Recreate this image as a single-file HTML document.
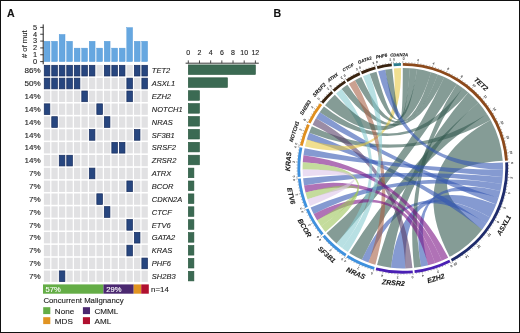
<!DOCTYPE html>
<html><head><meta charset="utf-8"><style>
html,body{margin:0;padding:0;background:#fff;}
#f{position:relative;width:520px;height:333px;overflow:hidden;background:#fff;}
svg{display:block;font-family:"Liberation Sans", sans-serif;will-change:transform;}
#f:after{content:"";position:absolute;left:0;top:0;right:0;bottom:0;border:1px solid #111;box-sizing:border-box;}
</style></head><body><div id="f">
<svg width="520" height="333" viewBox="0 0 520 333">
<text stroke="#111" stroke-width="0.12" x="7.0" y="16.6" font-size="10.6" font-weight="bold" fill="#111">A</text>
<text stroke="#111" stroke-width="0.12" x="273.6" y="16.8" font-size="10.6" font-weight="bold" fill="#111">B</text>
<rect x="44.15" y="41.28" width="5.85" height="20.32" fill="#66a7e0" stroke="#4f97d8" stroke-width="0.4"/>
<rect x="51.66" y="41.28" width="5.85" height="20.32" fill="#66a7e0" stroke="#4f97d8" stroke-width="0.4"/>
<rect x="59.17" y="34.44" width="5.85" height="27.16" fill="#66a7e0" stroke="#4f97d8" stroke-width="0.4"/>
<rect x="66.68" y="41.28" width="5.85" height="20.32" fill="#66a7e0" stroke="#4f97d8" stroke-width="0.4"/>
<rect x="74.19" y="48.12" width="5.85" height="13.48" fill="#66a7e0" stroke="#4f97d8" stroke-width="0.4"/>
<rect x="81.70" y="48.12" width="5.85" height="13.48" fill="#66a7e0" stroke="#4f97d8" stroke-width="0.4"/>
<rect x="89.21" y="41.28" width="5.85" height="20.32" fill="#66a7e0" stroke="#4f97d8" stroke-width="0.4"/>
<rect x="96.72" y="48.12" width="5.85" height="13.48" fill="#66a7e0" stroke="#4f97d8" stroke-width="0.4"/>
<rect x="104.23" y="41.28" width="5.85" height="20.32" fill="#66a7e0" stroke="#4f97d8" stroke-width="0.4"/>
<rect x="111.74" y="48.12" width="5.85" height="13.48" fill="#66a7e0" stroke="#4f97d8" stroke-width="0.4"/>
<rect x="119.25" y="48.12" width="5.85" height="13.48" fill="#66a7e0" stroke="#4f97d8" stroke-width="0.4"/>
<rect x="126.76" y="27.60" width="5.85" height="34.00" fill="#66a7e0" stroke="#4f97d8" stroke-width="0.4"/>
<rect x="134.27" y="41.28" width="5.85" height="20.32" fill="#66a7e0" stroke="#4f97d8" stroke-width="0.4"/>
<rect x="141.78" y="41.28" width="5.85" height="20.32" fill="#66a7e0" stroke="#4f97d8" stroke-width="0.4"/>
<line x1="43.2" y1="24.4" x2="43.2" y2="64.3" stroke="#222" stroke-width="1.0"/>
<line x1="40.2" y1="61.60" x2="43.4" y2="61.60" stroke="#222" stroke-width="0.85"/>
<text stroke="#222" stroke-width="0.12" x="37.1" y="63.90" font-size="7.4" fill="#222" text-anchor="end">0</text>
<line x1="40.2" y1="54.76" x2="43.4" y2="54.76" stroke="#222" stroke-width="0.85"/>
<text stroke="#222" stroke-width="0.12" x="37.1" y="57.06" font-size="7.4" fill="#222" text-anchor="end">1</text>
<line x1="40.2" y1="47.92" x2="43.4" y2="47.92" stroke="#222" stroke-width="0.85"/>
<text stroke="#222" stroke-width="0.12" x="37.1" y="50.22" font-size="7.4" fill="#222" text-anchor="end">2</text>
<line x1="40.2" y1="41.08" x2="43.4" y2="41.08" stroke="#222" stroke-width="0.85"/>
<text stroke="#222" stroke-width="0.12" x="37.1" y="43.38" font-size="7.4" fill="#222" text-anchor="end">3</text>
<line x1="40.2" y1="34.24" x2="43.4" y2="34.24" stroke="#222" stroke-width="0.85"/>
<text stroke="#222" stroke-width="0.12" x="37.1" y="36.54" font-size="7.4" fill="#222" text-anchor="end">4</text>
<line x1="40.2" y1="27.40" x2="43.4" y2="27.40" stroke="#222" stroke-width="0.85"/>
<text stroke="#222" stroke-width="0.12" x="37.1" y="29.70" font-size="7.4" fill="#222" text-anchor="end">5</text>
<text stroke="#222" stroke-width="0.12" transform="translate(26.6,44.2) rotate(-90)" font-size="7.7" fill="#222" text-anchor="middle"># of mut</text>
<rect x="44.25" y="65.30" width="5.60" height="10.70" fill="#27467f" stroke="#172d5e" stroke-width="0.7"/>
<rect x="51.76" y="65.30" width="5.60" height="10.70" fill="#27467f" stroke="#172d5e" stroke-width="0.7"/>
<rect x="59.27" y="65.30" width="5.60" height="10.70" fill="#27467f" stroke="#172d5e" stroke-width="0.7"/>
<rect x="66.78" y="65.30" width="5.60" height="10.70" fill="#27467f" stroke="#172d5e" stroke-width="0.7"/>
<rect x="74.29" y="65.30" width="5.60" height="10.70" fill="#27467f" stroke="#172d5e" stroke-width="0.7"/>
<rect x="81.80" y="65.30" width="5.60" height="10.70" fill="#27467f" stroke="#172d5e" stroke-width="0.7"/>
<rect x="89.31" y="65.30" width="5.60" height="10.70" fill="#27467f" stroke="#172d5e" stroke-width="0.7"/>
<rect x="96.47" y="65.00" width="6.3" height="11.3" fill="#e1e1e3"/>
<rect x="104.33" y="65.30" width="5.60" height="10.70" fill="#27467f" stroke="#172d5e" stroke-width="0.7"/>
<rect x="111.84" y="65.30" width="5.60" height="10.70" fill="#27467f" stroke="#172d5e" stroke-width="0.7"/>
<rect x="119.35" y="65.30" width="5.60" height="10.70" fill="#27467f" stroke="#172d5e" stroke-width="0.7"/>
<rect x="126.51" y="65.00" width="6.3" height="11.3" fill="#e1e1e3"/>
<rect x="134.37" y="65.30" width="5.60" height="10.70" fill="#27467f" stroke="#172d5e" stroke-width="0.7"/>
<rect x="141.88" y="65.30" width="5.60" height="10.70" fill="#27467f" stroke="#172d5e" stroke-width="0.7"/>
<text stroke="#222" stroke-width="0.12" x="40.6" y="73.35" font-size="8.1" fill="#222" text-anchor="end">86%</text>
<text stroke="#1e1e1e" stroke-width="0.12" x="151.8" y="73.35" font-size="7.5" font-style="italic" fill="#1e1e1e">TET2</text>
<rect x="44.25" y="78.15" width="5.60" height="10.70" fill="#27467f" stroke="#172d5e" stroke-width="0.7"/>
<rect x="51.76" y="78.15" width="5.60" height="10.70" fill="#27467f" stroke="#172d5e" stroke-width="0.7"/>
<rect x="59.27" y="78.15" width="5.60" height="10.70" fill="#27467f" stroke="#172d5e" stroke-width="0.7"/>
<rect x="66.78" y="78.15" width="5.60" height="10.70" fill="#27467f" stroke="#172d5e" stroke-width="0.7"/>
<rect x="74.29" y="78.15" width="5.60" height="10.70" fill="#27467f" stroke="#172d5e" stroke-width="0.7"/>
<rect x="81.45" y="77.85" width="6.3" height="11.3" fill="#e1e1e3"/>
<rect x="88.96" y="77.85" width="6.3" height="11.3" fill="#e1e1e3"/>
<rect x="96.47" y="77.85" width="6.3" height="11.3" fill="#e1e1e3"/>
<rect x="103.98" y="77.85" width="6.3" height="11.3" fill="#e1e1e3"/>
<rect x="111.49" y="77.85" width="6.3" height="11.3" fill="#e1e1e3"/>
<rect x="119.00" y="77.85" width="6.3" height="11.3" fill="#e1e1e3"/>
<rect x="126.86" y="78.15" width="5.60" height="10.70" fill="#27467f" stroke="#172d5e" stroke-width="0.7"/>
<rect x="134.02" y="77.85" width="6.3" height="11.3" fill="#e1e1e3"/>
<rect x="141.88" y="78.15" width="5.60" height="10.70" fill="#27467f" stroke="#172d5e" stroke-width="0.7"/>
<text stroke="#222" stroke-width="0.12" x="40.6" y="86.20" font-size="8.1" fill="#222" text-anchor="end">50%</text>
<text stroke="#1e1e1e" stroke-width="0.12" x="151.8" y="86.20" font-size="7.5" font-style="italic" fill="#1e1e1e">ASXL1</text>
<rect x="43.90" y="90.70" width="6.3" height="11.3" fill="#e1e1e3"/>
<rect x="51.41" y="90.70" width="6.3" height="11.3" fill="#e1e1e3"/>
<rect x="58.92" y="90.70" width="6.3" height="11.3" fill="#e1e1e3"/>
<rect x="66.43" y="90.70" width="6.3" height="11.3" fill="#e1e1e3"/>
<rect x="73.94" y="90.70" width="6.3" height="11.3" fill="#e1e1e3"/>
<rect x="81.80" y="91.00" width="5.60" height="10.70" fill="#27467f" stroke="#172d5e" stroke-width="0.7"/>
<rect x="88.96" y="90.70" width="6.3" height="11.3" fill="#e1e1e3"/>
<rect x="96.47" y="90.70" width="6.3" height="11.3" fill="#e1e1e3"/>
<rect x="103.98" y="90.70" width="6.3" height="11.3" fill="#e1e1e3"/>
<rect x="111.49" y="90.70" width="6.3" height="11.3" fill="#e1e1e3"/>
<rect x="119.00" y="90.70" width="6.3" height="11.3" fill="#e1e1e3"/>
<rect x="126.86" y="91.00" width="5.60" height="10.70" fill="#27467f" stroke="#172d5e" stroke-width="0.7"/>
<rect x="134.02" y="90.70" width="6.3" height="11.3" fill="#e1e1e3"/>
<rect x="141.53" y="90.70" width="6.3" height="11.3" fill="#e1e1e3"/>
<text stroke="#222" stroke-width="0.12" x="40.6" y="99.05" font-size="8.1" fill="#222" text-anchor="end">14%</text>
<text stroke="#1e1e1e" stroke-width="0.12" x="151.8" y="99.05" font-size="7.5" font-style="italic" fill="#1e1e1e">EZH2</text>
<rect x="44.25" y="103.85" width="5.60" height="10.70" fill="#27467f" stroke="#172d5e" stroke-width="0.7"/>
<rect x="51.41" y="103.55" width="6.3" height="11.3" fill="#e1e1e3"/>
<rect x="58.92" y="103.55" width="6.3" height="11.3" fill="#e1e1e3"/>
<rect x="66.43" y="103.55" width="6.3" height="11.3" fill="#e1e1e3"/>
<rect x="73.94" y="103.55" width="6.3" height="11.3" fill="#e1e1e3"/>
<rect x="81.45" y="103.55" width="6.3" height="11.3" fill="#e1e1e3"/>
<rect x="88.96" y="103.55" width="6.3" height="11.3" fill="#e1e1e3"/>
<rect x="96.82" y="103.85" width="5.60" height="10.70" fill="#27467f" stroke="#172d5e" stroke-width="0.7"/>
<rect x="103.98" y="103.55" width="6.3" height="11.3" fill="#e1e1e3"/>
<rect x="111.49" y="103.55" width="6.3" height="11.3" fill="#e1e1e3"/>
<rect x="119.00" y="103.55" width="6.3" height="11.3" fill="#e1e1e3"/>
<rect x="126.51" y="103.55" width="6.3" height="11.3" fill="#e1e1e3"/>
<rect x="134.02" y="103.55" width="6.3" height="11.3" fill="#e1e1e3"/>
<rect x="141.53" y="103.55" width="6.3" height="11.3" fill="#e1e1e3"/>
<text stroke="#222" stroke-width="0.12" x="40.6" y="111.90" font-size="8.1" fill="#222" text-anchor="end">14%</text>
<text stroke="#1e1e1e" stroke-width="0.12" x="151.8" y="111.90" font-size="7.5" font-style="italic" fill="#1e1e1e">NOTCH1</text>
<rect x="43.90" y="116.40" width="6.3" height="11.3" fill="#e1e1e3"/>
<rect x="51.76" y="116.70" width="5.60" height="10.70" fill="#27467f" stroke="#172d5e" stroke-width="0.7"/>
<rect x="58.92" y="116.40" width="6.3" height="11.3" fill="#e1e1e3"/>
<rect x="66.43" y="116.40" width="6.3" height="11.3" fill="#e1e1e3"/>
<rect x="73.94" y="116.40" width="6.3" height="11.3" fill="#e1e1e3"/>
<rect x="81.45" y="116.40" width="6.3" height="11.3" fill="#e1e1e3"/>
<rect x="88.96" y="116.40" width="6.3" height="11.3" fill="#e1e1e3"/>
<rect x="96.47" y="116.40" width="6.3" height="11.3" fill="#e1e1e3"/>
<rect x="104.33" y="116.70" width="5.60" height="10.70" fill="#27467f" stroke="#172d5e" stroke-width="0.7"/>
<rect x="111.49" y="116.40" width="6.3" height="11.3" fill="#e1e1e3"/>
<rect x="119.00" y="116.40" width="6.3" height="11.3" fill="#e1e1e3"/>
<rect x="126.51" y="116.40" width="6.3" height="11.3" fill="#e1e1e3"/>
<rect x="134.02" y="116.40" width="6.3" height="11.3" fill="#e1e1e3"/>
<rect x="141.53" y="116.40" width="6.3" height="11.3" fill="#e1e1e3"/>
<text stroke="#222" stroke-width="0.12" x="40.6" y="124.75" font-size="8.1" fill="#222" text-anchor="end">14%</text>
<text stroke="#1e1e1e" stroke-width="0.12" x="151.8" y="124.75" font-size="7.5" font-style="italic" fill="#1e1e1e">NRAS</text>
<rect x="43.90" y="129.25" width="6.3" height="11.3" fill="#e1e1e3"/>
<rect x="51.41" y="129.25" width="6.3" height="11.3" fill="#e1e1e3"/>
<rect x="58.92" y="129.25" width="6.3" height="11.3" fill="#e1e1e3"/>
<rect x="66.43" y="129.25" width="6.3" height="11.3" fill="#e1e1e3"/>
<rect x="73.94" y="129.25" width="6.3" height="11.3" fill="#e1e1e3"/>
<rect x="81.45" y="129.25" width="6.3" height="11.3" fill="#e1e1e3"/>
<rect x="89.31" y="129.55" width="5.60" height="10.70" fill="#27467f" stroke="#172d5e" stroke-width="0.7"/>
<rect x="96.47" y="129.25" width="6.3" height="11.3" fill="#e1e1e3"/>
<rect x="103.98" y="129.25" width="6.3" height="11.3" fill="#e1e1e3"/>
<rect x="111.49" y="129.25" width="6.3" height="11.3" fill="#e1e1e3"/>
<rect x="119.00" y="129.25" width="6.3" height="11.3" fill="#e1e1e3"/>
<rect x="126.51" y="129.25" width="6.3" height="11.3" fill="#e1e1e3"/>
<rect x="134.37" y="129.55" width="5.60" height="10.70" fill="#27467f" stroke="#172d5e" stroke-width="0.7"/>
<rect x="141.53" y="129.25" width="6.3" height="11.3" fill="#e1e1e3"/>
<text stroke="#222" stroke-width="0.12" x="40.6" y="137.60" font-size="8.1" fill="#222" text-anchor="end">14%</text>
<text stroke="#1e1e1e" stroke-width="0.12" x="151.8" y="137.60" font-size="7.5" font-style="italic" fill="#1e1e1e">SF3B1</text>
<rect x="43.90" y="142.10" width="6.3" height="11.3" fill="#e1e1e3"/>
<rect x="51.41" y="142.10" width="6.3" height="11.3" fill="#e1e1e3"/>
<rect x="58.92" y="142.10" width="6.3" height="11.3" fill="#e1e1e3"/>
<rect x="66.43" y="142.10" width="6.3" height="11.3" fill="#e1e1e3"/>
<rect x="73.94" y="142.10" width="6.3" height="11.3" fill="#e1e1e3"/>
<rect x="81.45" y="142.10" width="6.3" height="11.3" fill="#e1e1e3"/>
<rect x="88.96" y="142.10" width="6.3" height="11.3" fill="#e1e1e3"/>
<rect x="96.47" y="142.10" width="6.3" height="11.3" fill="#e1e1e3"/>
<rect x="103.98" y="142.10" width="6.3" height="11.3" fill="#e1e1e3"/>
<rect x="111.84" y="142.40" width="5.60" height="10.70" fill="#27467f" stroke="#172d5e" stroke-width="0.7"/>
<rect x="119.35" y="142.40" width="5.60" height="10.70" fill="#27467f" stroke="#172d5e" stroke-width="0.7"/>
<rect x="126.51" y="142.10" width="6.3" height="11.3" fill="#e1e1e3"/>
<rect x="134.02" y="142.10" width="6.3" height="11.3" fill="#e1e1e3"/>
<rect x="141.53" y="142.10" width="6.3" height="11.3" fill="#e1e1e3"/>
<text stroke="#222" stroke-width="0.12" x="40.6" y="150.45" font-size="8.1" fill="#222" text-anchor="end">14%</text>
<text stroke="#1e1e1e" stroke-width="0.12" x="151.8" y="150.45" font-size="7.5" font-style="italic" fill="#1e1e1e">SRSF2</text>
<rect x="43.90" y="154.95" width="6.3" height="11.3" fill="#e1e1e3"/>
<rect x="51.41" y="154.95" width="6.3" height="11.3" fill="#e1e1e3"/>
<rect x="59.27" y="155.25" width="5.60" height="10.70" fill="#27467f" stroke="#172d5e" stroke-width="0.7"/>
<rect x="66.78" y="155.25" width="5.60" height="10.70" fill="#27467f" stroke="#172d5e" stroke-width="0.7"/>
<rect x="73.94" y="154.95" width="6.3" height="11.3" fill="#e1e1e3"/>
<rect x="81.45" y="154.95" width="6.3" height="11.3" fill="#e1e1e3"/>
<rect x="88.96" y="154.95" width="6.3" height="11.3" fill="#e1e1e3"/>
<rect x="96.47" y="154.95" width="6.3" height="11.3" fill="#e1e1e3"/>
<rect x="103.98" y="154.95" width="6.3" height="11.3" fill="#e1e1e3"/>
<rect x="111.49" y="154.95" width="6.3" height="11.3" fill="#e1e1e3"/>
<rect x="119.00" y="154.95" width="6.3" height="11.3" fill="#e1e1e3"/>
<rect x="126.51" y="154.95" width="6.3" height="11.3" fill="#e1e1e3"/>
<rect x="134.02" y="154.95" width="6.3" height="11.3" fill="#e1e1e3"/>
<rect x="141.53" y="154.95" width="6.3" height="11.3" fill="#e1e1e3"/>
<text stroke="#222" stroke-width="0.12" x="40.6" y="163.30" font-size="8.1" fill="#222" text-anchor="end">14%</text>
<text stroke="#1e1e1e" stroke-width="0.12" x="151.8" y="163.30" font-size="7.5" font-style="italic" fill="#1e1e1e">ZRSR2</text>
<rect x="43.90" y="167.80" width="6.3" height="11.3" fill="#e1e1e3"/>
<rect x="51.41" y="167.80" width="6.3" height="11.3" fill="#e1e1e3"/>
<rect x="58.92" y="167.80" width="6.3" height="11.3" fill="#e1e1e3"/>
<rect x="66.43" y="167.80" width="6.3" height="11.3" fill="#e1e1e3"/>
<rect x="73.94" y="167.80" width="6.3" height="11.3" fill="#e1e1e3"/>
<rect x="81.45" y="167.80" width="6.3" height="11.3" fill="#e1e1e3"/>
<rect x="89.31" y="168.10" width="5.60" height="10.70" fill="#27467f" stroke="#172d5e" stroke-width="0.7"/>
<rect x="96.47" y="167.80" width="6.3" height="11.3" fill="#e1e1e3"/>
<rect x="103.98" y="167.80" width="6.3" height="11.3" fill="#e1e1e3"/>
<rect x="111.49" y="167.80" width="6.3" height="11.3" fill="#e1e1e3"/>
<rect x="119.00" y="167.80" width="6.3" height="11.3" fill="#e1e1e3"/>
<rect x="126.51" y="167.80" width="6.3" height="11.3" fill="#e1e1e3"/>
<rect x="134.02" y="167.80" width="6.3" height="11.3" fill="#e1e1e3"/>
<rect x="141.53" y="167.80" width="6.3" height="11.3" fill="#e1e1e3"/>
<text stroke="#222" stroke-width="0.12" x="40.6" y="176.15" font-size="8.1" fill="#222" text-anchor="end">7%</text>
<text stroke="#1e1e1e" stroke-width="0.12" x="151.8" y="176.15" font-size="7.5" font-style="italic" fill="#1e1e1e">ATRX</text>
<rect x="43.90" y="180.65" width="6.3" height="11.3" fill="#e1e1e3"/>
<rect x="51.41" y="180.65" width="6.3" height="11.3" fill="#e1e1e3"/>
<rect x="58.92" y="180.65" width="6.3" height="11.3" fill="#e1e1e3"/>
<rect x="66.43" y="180.65" width="6.3" height="11.3" fill="#e1e1e3"/>
<rect x="73.94" y="180.65" width="6.3" height="11.3" fill="#e1e1e3"/>
<rect x="81.45" y="180.65" width="6.3" height="11.3" fill="#e1e1e3"/>
<rect x="88.96" y="180.65" width="6.3" height="11.3" fill="#e1e1e3"/>
<rect x="96.47" y="180.65" width="6.3" height="11.3" fill="#e1e1e3"/>
<rect x="103.98" y="180.65" width="6.3" height="11.3" fill="#e1e1e3"/>
<rect x="111.49" y="180.65" width="6.3" height="11.3" fill="#e1e1e3"/>
<rect x="119.00" y="180.65" width="6.3" height="11.3" fill="#e1e1e3"/>
<rect x="126.86" y="180.95" width="5.60" height="10.70" fill="#27467f" stroke="#172d5e" stroke-width="0.7"/>
<rect x="134.02" y="180.65" width="6.3" height="11.3" fill="#e1e1e3"/>
<rect x="141.53" y="180.65" width="6.3" height="11.3" fill="#e1e1e3"/>
<text stroke="#222" stroke-width="0.12" x="40.6" y="189.00" font-size="8.1" fill="#222" text-anchor="end">7%</text>
<text stroke="#1e1e1e" stroke-width="0.12" x="151.8" y="189.00" font-size="7.5" font-style="italic" fill="#1e1e1e">BCOR</text>
<rect x="43.90" y="193.50" width="6.3" height="11.3" fill="#e1e1e3"/>
<rect x="51.41" y="193.50" width="6.3" height="11.3" fill="#e1e1e3"/>
<rect x="58.92" y="193.50" width="6.3" height="11.3" fill="#e1e1e3"/>
<rect x="66.43" y="193.50" width="6.3" height="11.3" fill="#e1e1e3"/>
<rect x="73.94" y="193.50" width="6.3" height="11.3" fill="#e1e1e3"/>
<rect x="81.45" y="193.50" width="6.3" height="11.3" fill="#e1e1e3"/>
<rect x="88.96" y="193.50" width="6.3" height="11.3" fill="#e1e1e3"/>
<rect x="96.82" y="193.80" width="5.60" height="10.70" fill="#27467f" stroke="#172d5e" stroke-width="0.7"/>
<rect x="103.98" y="193.50" width="6.3" height="11.3" fill="#e1e1e3"/>
<rect x="111.49" y="193.50" width="6.3" height="11.3" fill="#e1e1e3"/>
<rect x="119.00" y="193.50" width="6.3" height="11.3" fill="#e1e1e3"/>
<rect x="126.51" y="193.50" width="6.3" height="11.3" fill="#e1e1e3"/>
<rect x="134.02" y="193.50" width="6.3" height="11.3" fill="#e1e1e3"/>
<rect x="141.53" y="193.50" width="6.3" height="11.3" fill="#e1e1e3"/>
<text stroke="#222" stroke-width="0.12" x="40.6" y="201.85" font-size="8.1" fill="#222" text-anchor="end">7%</text>
<text stroke="#1e1e1e" stroke-width="0.12" x="151.8" y="201.85" font-size="7.5" font-style="italic" fill="#1e1e1e">CDKN2A</text>
<rect x="43.90" y="206.35" width="6.3" height="11.3" fill="#e1e1e3"/>
<rect x="51.41" y="206.35" width="6.3" height="11.3" fill="#e1e1e3"/>
<rect x="58.92" y="206.35" width="6.3" height="11.3" fill="#e1e1e3"/>
<rect x="66.43" y="206.35" width="6.3" height="11.3" fill="#e1e1e3"/>
<rect x="73.94" y="206.35" width="6.3" height="11.3" fill="#e1e1e3"/>
<rect x="81.45" y="206.35" width="6.3" height="11.3" fill="#e1e1e3"/>
<rect x="88.96" y="206.35" width="6.3" height="11.3" fill="#e1e1e3"/>
<rect x="96.47" y="206.35" width="6.3" height="11.3" fill="#e1e1e3"/>
<rect x="104.33" y="206.65" width="5.60" height="10.70" fill="#27467f" stroke="#172d5e" stroke-width="0.7"/>
<rect x="111.49" y="206.35" width="6.3" height="11.3" fill="#e1e1e3"/>
<rect x="119.00" y="206.35" width="6.3" height="11.3" fill="#e1e1e3"/>
<rect x="126.51" y="206.35" width="6.3" height="11.3" fill="#e1e1e3"/>
<rect x="134.02" y="206.35" width="6.3" height="11.3" fill="#e1e1e3"/>
<rect x="141.53" y="206.35" width="6.3" height="11.3" fill="#e1e1e3"/>
<text stroke="#222" stroke-width="0.12" x="40.6" y="214.70" font-size="8.1" fill="#222" text-anchor="end">7%</text>
<text stroke="#1e1e1e" stroke-width="0.12" x="151.8" y="214.70" font-size="7.5" font-style="italic" fill="#1e1e1e">CTCF</text>
<rect x="43.90" y="219.20" width="6.3" height="11.3" fill="#e1e1e3"/>
<rect x="51.41" y="219.20" width="6.3" height="11.3" fill="#e1e1e3"/>
<rect x="58.92" y="219.20" width="6.3" height="11.3" fill="#e1e1e3"/>
<rect x="66.43" y="219.20" width="6.3" height="11.3" fill="#e1e1e3"/>
<rect x="73.94" y="219.20" width="6.3" height="11.3" fill="#e1e1e3"/>
<rect x="81.45" y="219.20" width="6.3" height="11.3" fill="#e1e1e3"/>
<rect x="88.96" y="219.20" width="6.3" height="11.3" fill="#e1e1e3"/>
<rect x="96.47" y="219.20" width="6.3" height="11.3" fill="#e1e1e3"/>
<rect x="103.98" y="219.20" width="6.3" height="11.3" fill="#e1e1e3"/>
<rect x="111.49" y="219.20" width="6.3" height="11.3" fill="#e1e1e3"/>
<rect x="119.00" y="219.20" width="6.3" height="11.3" fill="#e1e1e3"/>
<rect x="126.86" y="219.50" width="5.60" height="10.70" fill="#27467f" stroke="#172d5e" stroke-width="0.7"/>
<rect x="134.02" y="219.20" width="6.3" height="11.3" fill="#e1e1e3"/>
<rect x="141.53" y="219.20" width="6.3" height="11.3" fill="#e1e1e3"/>
<text stroke="#222" stroke-width="0.12" x="40.6" y="227.55" font-size="8.1" fill="#222" text-anchor="end">7%</text>
<text stroke="#1e1e1e" stroke-width="0.12" x="151.8" y="227.55" font-size="7.5" font-style="italic" fill="#1e1e1e">ETV6</text>
<rect x="43.90" y="232.05" width="6.3" height="11.3" fill="#e1e1e3"/>
<rect x="51.41" y="232.05" width="6.3" height="11.3" fill="#e1e1e3"/>
<rect x="58.92" y="232.05" width="6.3" height="11.3" fill="#e1e1e3"/>
<rect x="66.43" y="232.05" width="6.3" height="11.3" fill="#e1e1e3"/>
<rect x="73.94" y="232.05" width="6.3" height="11.3" fill="#e1e1e3"/>
<rect x="81.45" y="232.05" width="6.3" height="11.3" fill="#e1e1e3"/>
<rect x="88.96" y="232.05" width="6.3" height="11.3" fill="#e1e1e3"/>
<rect x="96.47" y="232.05" width="6.3" height="11.3" fill="#e1e1e3"/>
<rect x="103.98" y="232.05" width="6.3" height="11.3" fill="#e1e1e3"/>
<rect x="111.49" y="232.05" width="6.3" height="11.3" fill="#e1e1e3"/>
<rect x="119.00" y="232.05" width="6.3" height="11.3" fill="#e1e1e3"/>
<rect x="126.51" y="232.05" width="6.3" height="11.3" fill="#e1e1e3"/>
<rect x="134.37" y="232.35" width="5.60" height="10.70" fill="#27467f" stroke="#172d5e" stroke-width="0.7"/>
<rect x="141.53" y="232.05" width="6.3" height="11.3" fill="#e1e1e3"/>
<text stroke="#222" stroke-width="0.12" x="40.6" y="240.40" font-size="8.1" fill="#222" text-anchor="end">7%</text>
<text stroke="#1e1e1e" stroke-width="0.12" x="151.8" y="240.40" font-size="7.5" font-style="italic" fill="#1e1e1e">GATA2</text>
<rect x="43.90" y="244.90" width="6.3" height="11.3" fill="#e1e1e3"/>
<rect x="51.41" y="244.90" width="6.3" height="11.3" fill="#e1e1e3"/>
<rect x="58.92" y="244.90" width="6.3" height="11.3" fill="#e1e1e3"/>
<rect x="66.43" y="244.90" width="6.3" height="11.3" fill="#e1e1e3"/>
<rect x="73.94" y="244.90" width="6.3" height="11.3" fill="#e1e1e3"/>
<rect x="81.45" y="244.90" width="6.3" height="11.3" fill="#e1e1e3"/>
<rect x="88.96" y="244.90" width="6.3" height="11.3" fill="#e1e1e3"/>
<rect x="96.47" y="244.90" width="6.3" height="11.3" fill="#e1e1e3"/>
<rect x="103.98" y="244.90" width="6.3" height="11.3" fill="#e1e1e3"/>
<rect x="111.49" y="244.90" width="6.3" height="11.3" fill="#e1e1e3"/>
<rect x="119.00" y="244.90" width="6.3" height="11.3" fill="#e1e1e3"/>
<rect x="126.86" y="245.20" width="5.60" height="10.70" fill="#27467f" stroke="#172d5e" stroke-width="0.7"/>
<rect x="134.02" y="244.90" width="6.3" height="11.3" fill="#e1e1e3"/>
<rect x="141.53" y="244.90" width="6.3" height="11.3" fill="#e1e1e3"/>
<text stroke="#222" stroke-width="0.12" x="40.6" y="253.25" font-size="8.1" fill="#222" text-anchor="end">7%</text>
<text stroke="#1e1e1e" stroke-width="0.12" x="151.8" y="253.25" font-size="7.5" font-style="italic" fill="#1e1e1e">KRAS</text>
<rect x="43.90" y="257.75" width="6.3" height="11.3" fill="#e1e1e3"/>
<rect x="51.41" y="257.75" width="6.3" height="11.3" fill="#e1e1e3"/>
<rect x="58.92" y="257.75" width="6.3" height="11.3" fill="#e1e1e3"/>
<rect x="66.43" y="257.75" width="6.3" height="11.3" fill="#e1e1e3"/>
<rect x="73.94" y="257.75" width="6.3" height="11.3" fill="#e1e1e3"/>
<rect x="81.45" y="257.75" width="6.3" height="11.3" fill="#e1e1e3"/>
<rect x="88.96" y="257.75" width="6.3" height="11.3" fill="#e1e1e3"/>
<rect x="96.47" y="257.75" width="6.3" height="11.3" fill="#e1e1e3"/>
<rect x="103.98" y="257.75" width="6.3" height="11.3" fill="#e1e1e3"/>
<rect x="111.49" y="257.75" width="6.3" height="11.3" fill="#e1e1e3"/>
<rect x="119.00" y="257.75" width="6.3" height="11.3" fill="#e1e1e3"/>
<rect x="126.51" y="257.75" width="6.3" height="11.3" fill="#e1e1e3"/>
<rect x="134.02" y="257.75" width="6.3" height="11.3" fill="#e1e1e3"/>
<rect x="141.88" y="258.05" width="5.60" height="10.70" fill="#27467f" stroke="#172d5e" stroke-width="0.7"/>
<text stroke="#222" stroke-width="0.12" x="40.6" y="266.10" font-size="8.1" fill="#222" text-anchor="end">7%</text>
<text stroke="#1e1e1e" stroke-width="0.12" x="151.8" y="266.10" font-size="7.5" font-style="italic" fill="#1e1e1e">PHF6</text>
<rect x="43.90" y="270.60" width="6.3" height="11.3" fill="#e1e1e3"/>
<rect x="51.41" y="270.60" width="6.3" height="11.3" fill="#e1e1e3"/>
<rect x="59.27" y="270.90" width="5.60" height="10.70" fill="#27467f" stroke="#172d5e" stroke-width="0.7"/>
<rect x="66.43" y="270.60" width="6.3" height="11.3" fill="#e1e1e3"/>
<rect x="73.94" y="270.60" width="6.3" height="11.3" fill="#e1e1e3"/>
<rect x="81.45" y="270.60" width="6.3" height="11.3" fill="#e1e1e3"/>
<rect x="88.96" y="270.60" width="6.3" height="11.3" fill="#e1e1e3"/>
<rect x="96.47" y="270.60" width="6.3" height="11.3" fill="#e1e1e3"/>
<rect x="103.98" y="270.60" width="6.3" height="11.3" fill="#e1e1e3"/>
<rect x="111.49" y="270.60" width="6.3" height="11.3" fill="#e1e1e3"/>
<rect x="119.00" y="270.60" width="6.3" height="11.3" fill="#e1e1e3"/>
<rect x="126.51" y="270.60" width="6.3" height="11.3" fill="#e1e1e3"/>
<rect x="134.02" y="270.60" width="6.3" height="11.3" fill="#e1e1e3"/>
<rect x="141.53" y="270.60" width="6.3" height="11.3" fill="#e1e1e3"/>
<text stroke="#222" stroke-width="0.12" x="40.6" y="278.95" font-size="8.1" fill="#222" text-anchor="end">7%</text>
<text stroke="#1e1e1e" stroke-width="0.12" x="151.8" y="278.95" font-size="7.5" font-style="italic" fill="#1e1e1e">SH2B3</text>
<line x1="185.6" y1="63.2" x2="258.8" y2="63.2" stroke="#222" stroke-width="0.9"/>
<line x1="188.30" y1="60.4" x2="188.30" y2="63.2" stroke="#222" stroke-width="0.8"/>
<text stroke="#222" stroke-width="0.12" x="188.30" y="55.4" font-size="7.0" fill="#222" text-anchor="middle">0</text>
<line x1="199.48" y1="60.4" x2="199.48" y2="63.2" stroke="#222" stroke-width="0.8"/>
<text stroke="#222" stroke-width="0.12" x="199.48" y="55.4" font-size="7.0" fill="#222" text-anchor="middle">2</text>
<line x1="210.66" y1="60.4" x2="210.66" y2="63.2" stroke="#222" stroke-width="0.8"/>
<text stroke="#222" stroke-width="0.12" x="210.66" y="55.4" font-size="7.0" fill="#222" text-anchor="middle">4</text>
<line x1="221.84" y1="60.4" x2="221.84" y2="63.2" stroke="#222" stroke-width="0.8"/>
<text stroke="#222" stroke-width="0.12" x="221.84" y="55.4" font-size="7.0" fill="#222" text-anchor="middle">6</text>
<line x1="233.02" y1="60.4" x2="233.02" y2="63.2" stroke="#222" stroke-width="0.8"/>
<text stroke="#222" stroke-width="0.12" x="233.02" y="55.4" font-size="7.0" fill="#222" text-anchor="middle">8</text>
<line x1="244.20" y1="60.4" x2="244.20" y2="63.2" stroke="#222" stroke-width="0.8"/>
<text stroke="#222" stroke-width="0.12" x="244.20" y="55.4" font-size="7.0" fill="#222" text-anchor="middle">10</text>
<line x1="255.38" y1="60.4" x2="255.38" y2="63.2" stroke="#222" stroke-width="0.8"/>
<text stroke="#222" stroke-width="0.12" x="255.38" y="55.4" font-size="7.0" fill="#222" text-anchor="middle">12</text>
<rect x="188.30" y="64.90" width="67.08" height="9.6" fill="#3b6a53" stroke="#2a573f" stroke-width="0.6"/>
<rect x="188.30" y="77.80" width="39.13" height="9.6" fill="#3b6a53" stroke="#2a573f" stroke-width="0.6"/>
<rect x="188.30" y="90.70" width="11.18" height="9.6" fill="#3b6a53" stroke="#2a573f" stroke-width="0.6"/>
<rect x="188.30" y="103.60" width="11.18" height="9.6" fill="#3b6a53" stroke="#2a573f" stroke-width="0.6"/>
<rect x="188.30" y="116.50" width="11.18" height="9.6" fill="#3b6a53" stroke="#2a573f" stroke-width="0.6"/>
<rect x="188.30" y="129.40" width="11.18" height="9.6" fill="#3b6a53" stroke="#2a573f" stroke-width="0.6"/>
<rect x="188.30" y="142.30" width="11.18" height="9.6" fill="#3b6a53" stroke="#2a573f" stroke-width="0.6"/>
<rect x="188.30" y="155.20" width="11.18" height="9.6" fill="#3b6a53" stroke="#2a573f" stroke-width="0.6"/>
<rect x="188.30" y="168.10" width="5.59" height="9.6" fill="#3b6a53" stroke="#2a573f" stroke-width="0.6"/>
<rect x="188.30" y="181.00" width="5.59" height="9.6" fill="#3b6a53" stroke="#2a573f" stroke-width="0.6"/>
<rect x="188.30" y="193.90" width="5.59" height="9.6" fill="#3b6a53" stroke="#2a573f" stroke-width="0.6"/>
<rect x="188.30" y="206.80" width="5.59" height="9.6" fill="#3b6a53" stroke="#2a573f" stroke-width="0.6"/>
<rect x="188.30" y="219.70" width="5.59" height="9.6" fill="#3b6a53" stroke="#2a573f" stroke-width="0.6"/>
<rect x="188.30" y="232.60" width="5.59" height="9.6" fill="#3b6a53" stroke="#2a573f" stroke-width="0.6"/>
<rect x="188.30" y="245.50" width="5.59" height="9.6" fill="#3b6a53" stroke="#2a573f" stroke-width="0.6"/>
<rect x="188.30" y="258.40" width="5.59" height="9.6" fill="#3b6a53" stroke="#2a573f" stroke-width="0.6"/>
<rect x="188.30" y="271.30" width="5.59" height="9.6" fill="#3b6a53" stroke="#2a573f" stroke-width="0.6"/>
<rect x="43.00" y="284.4" width="60.46" height="9.3" fill="#64ad46"/>
<rect x="103.46" y="284.4" width="30.23" height="9.3" fill="#4b2870"/>
<rect x="133.69" y="284.4" width="7.56" height="9.3" fill="#e19422"/>
<rect x="141.24" y="284.4" width="7.56" height="9.3" fill="#b0102f"/>
<text stroke="#fff" stroke-width="0.12" x="45.5" y="291.7" font-size="7.6" fill="#fff">57%</text>
<text stroke="#fff" stroke-width="0.12" x="106.3" y="291.7" font-size="7.6" fill="#fff">29%</text>
<text stroke="#222" stroke-width="0.12" x="151.0" y="292.0" font-size="7.9" fill="#222">n=14</text>
<text stroke="#222" stroke-width="0.12" x="43.4" y="302.9" font-size="7.8" fill="#222">Concurrent Malignancy</text>
<rect x="43.2" y="307.2" width="7.1" height="6.9" fill="#64ad46"/>
<text stroke="#222" stroke-width="0.12" x="54.8" y="314.0" font-size="8.1" fill="#222">None</text>
<rect x="82.9" y="307.2" width="7.1" height="6.9" fill="#4b2870"/>
<text stroke="#222" stroke-width="0.12" x="94.5" y="314.0" font-size="8.1" fill="#222">CMML</text>
<rect x="43.2" y="317.2" width="7.1" height="6.9" fill="#e19422"/>
<text stroke="#222" stroke-width="0.12" x="54.8" y="324.0" font-size="8.1" fill="#222">MDS</text>
<rect x="82.9" y="317.2" width="7.1" height="6.9" fill="#b0102f"/>
<text stroke="#222" stroke-width="0.12" x="94.5" y="324.0" font-size="8.1" fill="#222">AML</text>
<g><path d="M490.65,120.10 A100.2,100.2 0 0 1 502.72,160.87 Q402.8,168.3 482.21,229.41 A100.2,100.2 0 0 1 449.71,256.84 Q402.8,168.3 490.65,120.10Z" fill="#345a50" fill-opacity="0.6"/><path d="M486.99,113.97 A100.2,100.2 0 0 1 490.65,120.10 Q402.8,168.3 309.10,132.80 A100.2,100.2 0 0 1 311.87,126.22 Q402.8,168.3 486.99,113.97Z" fill="#345a50" fill-opacity="0.6"/><path d="M486.36,223.60 A100.2,100.2 0 0 1 482.21,229.41 Q402.8,168.3 306.81,139.56 A100.2,100.2 0 0 1 309.10,132.80 Q402.8,168.3 486.36,223.60Z" fill="#3457b2" fill-opacity="0.6"/><path d="M478.42,102.56 A100.2,100.2 0 0 1 486.99,113.97 Q402.8,168.3 361.91,259.78 A100.2,100.2 0 0 1 349.33,253.04 Q402.8,168.3 478.42,102.56Z" fill="#345a50" fill-opacity="0.6"/><path d="M490.08,217.51 A100.2,100.2 0 0 1 486.36,223.60 Q402.8,168.3 368.53,262.46 A100.2,100.2 0 0 1 361.91,259.78 Q402.8,168.3 490.08,217.51Z" fill="#3457b2" fill-opacity="0.6"/><path d="M468.32,92.49 A100.2,100.2 0 0 1 478.42,102.56 Q402.8,168.3 391.02,267.81 A100.2,100.2 0 0 1 377.01,265.12 Q402.8,168.3 468.32,92.49Z" fill="#345a50" fill-opacity="0.6"/><path d="M462.75,88.01 A100.2,100.2 0 0 1 468.32,92.49 Q402.8,168.3 319.73,112.27 A100.2,100.2 0 0 1 323.93,106.50 Q402.8,168.3 462.75,88.01Z" fill="#345a50" fill-opacity="0.6"/><path d="M496.19,204.62 A100.2,100.2 0 0 1 490.08,217.51 Q402.8,168.3 405.28,268.47 A100.2,100.2 0 0 1 391.02,267.81 Q402.8,168.3 496.19,204.62Z" fill="#3457b2" fill-opacity="0.6"/><path d="M498.54,197.87 A100.2,100.2 0 0 1 496.19,204.62 Q402.8,168.3 315.95,118.33 A100.2,100.2 0 0 1 319.73,112.27 Q402.8,168.3 498.54,197.87Z" fill="#3457b2" fill-opacity="0.6"/><path d="M412.40,268.04 A100.2,100.2 0 0 1 405.28,268.47 Q402.8,168.3 312.61,124.64 A100.2,100.2 0 0 1 315.95,118.33 Q402.8,168.3 412.40,268.04Z" fill="#583f69" fill-opacity="0.6"/><path d="M456.88,83.95 A100.2,100.2 0 0 1 462.75,88.01 Q402.8,168.3 421.20,266.80 A100.2,100.2 0 0 1 414.14,267.86 Q402.8,168.3 456.88,83.95Z" fill="#345a50" fill-opacity="0.6"/><path d="M444.35,77.12 A100.2,100.2 0 0 1 456.88,83.95 Q402.8,168.3 336.51,243.44 A100.2,100.2 0 0 1 326.51,233.26 Q402.8,168.3 444.35,77.12Z" fill="#345a50" fill-opacity="0.6"/><path d="M437.75,74.39 A100.2,100.2 0 0 1 444.35,77.12 Q402.8,168.3 341.57,88.98 A100.2,100.2 0 0 1 347.37,84.83 Q402.8,168.3 437.75,74.39Z" fill="#345a50" fill-opacity="0.6"/><path d="M342.03,247.97 A100.2,100.2 0 0 1 336.51,243.44 Q402.8,168.3 336.08,93.55 A100.2,100.2 0 0 1 341.57,88.98 Q402.8,168.3 342.03,247.97Z" fill="#89cbd0" fill-opacity="0.6"/><path d="M305.01,146.47 A100.2,100.2 0 0 1 306.81,139.56 Q402.8,168.3 393.92,68.49 A100.2,100.2 0 0 1 401.05,68.12 Q402.8,168.3 305.01,146.47Z" fill="#e8ca46" fill-opacity="0.6"/><path d="M430.98,72.14 A100.2,100.2 0 0 1 437.75,74.39 Q402.8,168.3 354.99,80.24 A100.2,100.2 0 0 1 361.38,77.06 Q402.8,168.3 430.98,72.14Z" fill="#345a50" fill-opacity="0.6"/><path d="M375.32,264.66 A100.2,100.2 0 0 1 368.53,262.46 Q402.8,168.3 348.84,83.87 A100.2,100.2 0 0 1 354.99,80.24 Q402.8,168.3 375.32,264.66Z" fill="#a86248" fill-opacity="0.6"/><path d="M417.03,69.12 A100.2,100.2 0 0 1 430.98,72.14 Q402.8,168.3 325.02,105.13 A100.2,100.2 0 0 1 334.78,94.72 Q402.8,168.3 417.03,69.12Z" fill="#345a50" fill-opacity="0.6"/><path d="M500.40,190.98 A100.2,100.2 0 0 1 498.54,197.87 Q402.8,168.3 428.17,265.24 A100.2,100.2 0 0 1 421.20,266.80 Q402.8,168.3 500.40,190.98Z" fill="#3457b2" fill-opacity="0.6"/><path d="M501.77,183.97 A100.2,100.2 0 0 1 500.40,190.98 Q402.8,168.3 313.65,214.05 A100.2,100.2 0 0 1 310.62,207.59 Q402.8,168.3 501.77,183.97Z" fill="#3457b2" fill-opacity="0.6"/><path d="M502.63,176.89 A100.2,100.2 0 0 1 501.77,183.97 Q402.8,168.3 304.07,185.41 A100.2,100.2 0 0 1 303.10,178.34 Q402.8,168.3 502.63,176.89Z" fill="#3457b2" fill-opacity="0.6"/><path d="M502.99,169.76 A100.2,100.2 0 0 1 502.63,176.89 Q402.8,168.3 303.46,155.22 A100.2,100.2 0 0 1 304.64,148.18 Q402.8,168.3 502.99,169.76Z" fill="#3457b2" fill-opacity="0.6"/><path d="M435.01,263.18 A100.2,100.2 0 0 1 428.17,265.24 Q402.8,168.3 317.14,220.28 A100.2,100.2 0 0 1 313.65,214.05 Q402.8,168.3 435.01,263.18Z" fill="#7b1485" fill-opacity="0.6"/><path d="M441.68,260.65 A100.2,100.2 0 0 1 435.01,263.18 Q402.8,168.3 305.54,192.40 A100.2,100.2 0 0 1 304.07,185.41 Q402.8,168.3 441.68,260.65Z" fill="#7b1485" fill-opacity="0.6"/><path d="M448.16,257.64 A100.2,100.2 0 0 1 441.68,260.65 Q402.8,168.3 302.78,162.33 A100.2,100.2 0 0 1 303.46,155.22 Q402.8,168.3 448.16,257.64Z" fill="#7b1485" fill-opacity="0.6"/><path d="M321.06,226.25 A100.2,100.2 0 0 1 317.14,220.28 Q402.8,168.3 307.50,199.26 A100.2,100.2 0 0 1 305.54,192.40 Q402.8,168.3 321.06,226.25Z" fill="#9dc55a" fill-opacity="0.6"/><path d="M325.39,231.92 A100.2,100.2 0 0 1 321.06,226.25 Q402.8,168.3 302.61,169.47 A100.2,100.2 0 0 1 302.78,162.33 Q402.8,168.3 325.39,231.92Z" fill="#9dc55a" fill-opacity="0.6"/><path d="M309.95,205.97 A100.2,100.2 0 0 1 307.50,199.26 Q402.8,168.3 302.94,176.60 A100.2,100.2 0 0 1 302.61,169.47 Q402.8,168.3 309.95,205.97Z" fill="#dcc5e9" fill-opacity="0.6"/><path d="M409.93,68.35 A100.2,100.2 0 0 1 417.03,69.12 Q402.8,168.3 369.63,73.75 A100.2,100.2 0 0 1 376.44,71.63 Q402.8,168.3 409.93,68.35Z" fill="#345a50" fill-opacity="0.6"/><path d="M347.86,252.10 A100.2,100.2 0 0 1 342.03,247.97 Q402.8,168.3 362.98,76.35 A100.2,100.2 0 0 1 369.63,73.75 Q402.8,168.3 347.86,252.10Z" fill="#89cbd0" fill-opacity="0.6"/><path d="M402.80,68.10 A100.2,100.2 0 0 1 409.93,68.35 Q402.8,168.3 385.11,69.67 A100.2,100.2 0 0 1 392.18,68.66 Q402.8,168.3 402.80,68.10Z" fill="#345a50" fill-opacity="0.6"/><path d="M502.84,162.62 A100.2,100.2 0 0 1 502.99,169.76 Q402.8,168.3 378.14,71.18 A100.2,100.2 0 0 1 385.11,69.67 Q402.8,168.3 502.84,162.62Z" fill="#3457b2" fill-opacity="0.6"/></g>
<path d="M402.80,62.90 A105.4,105.4 0 0 1 507.91,160.49 L505.07,160.70 A102.55,102.55 0 0 0 402.80,65.75Z" fill="#8c4a1c"/>
<path d="M508.03,162.32 A105.4,105.4 0 0 1 452.15,261.43 L450.81,258.92 A102.55,102.55 0 0 0 505.19,162.49Z" fill="#1f2c6c"/>
<path d="M450.51,262.28 A105.4,105.4 0 0 1 414.73,273.02 L414.41,270.19 A102.55,102.55 0 0 0 449.22,259.74Z" fill="#4a20b4"/>
<path d="M412.90,273.21 A105.4,105.4 0 0 1 375.67,270.15 L376.40,267.39 A102.55,102.55 0 0 0 412.63,270.38Z" fill="#4a20b4"/>
<path d="M373.90,269.66 A105.4,105.4 0 0 1 346.56,257.44 L348.08,255.03 A102.55,102.55 0 0 0 374.68,266.92Z" fill="#3f91de"/>
<path d="M345.01,256.44 A105.4,105.4 0 0 1 322.55,236.64 L324.72,234.79 A102.55,102.55 0 0 0 346.57,254.06Z" fill="#3f91de"/>
<path d="M321.37,235.22 A105.4,105.4 0 0 1 305.84,209.62 L308.46,208.51 A102.55,102.55 0 0 0 323.58,233.41Z" fill="#3f91de"/>
<path d="M305.13,207.93 A105.4,105.4 0 0 1 297.93,178.86 L300.77,178.57 A102.55,102.55 0 0 0 307.77,206.85Z" fill="#3f91de"/>
<path d="M297.76,177.03 A105.4,105.4 0 0 1 299.55,147.14 L302.34,147.71 A102.55,102.55 0 0 0 300.60,176.79Z" fill="#3f91de"/>
<path d="M299.93,145.34 A105.4,105.4 0 0 1 307.15,124.03 L309.73,125.23 A102.55,102.55 0 0 0 302.71,145.96Z" fill="#e08f1f"/>
<path d="M307.93,122.37 A105.4,105.4 0 0 1 319.84,103.29 L322.08,105.05 A102.55,102.55 0 0 0 310.50,123.61Z" fill="#e08f1f"/>
<path d="M320.99,101.85 A105.4,105.4 0 0 1 331.25,90.90 L333.19,93.00 A102.55,102.55 0 0 0 323.20,103.65Z" fill="#3a2410"/>
<path d="M332.62,89.67 A105.4,105.4 0 0 1 344.50,80.49 L346.07,82.87 A102.55,102.55 0 0 0 334.51,91.79Z" fill="#3a2410"/>
<path d="M346.04,79.49 A105.4,105.4 0 0 1 359.23,72.33 L360.41,74.92 A102.55,102.55 0 0 0 347.57,81.89Z" fill="#3a2410"/>
<path d="M360.91,71.58 A105.4,105.4 0 0 1 375.08,66.61 L375.83,69.36 A102.55,102.55 0 0 0 362.05,74.20Z" fill="#3a2410"/>
<path d="M376.86,66.14 A105.4,105.4 0 0 1 391.63,63.49 L391.93,66.33 A102.55,102.55 0 0 0 377.56,68.91Z" fill="#3a2410"/>
<path d="M393.46,63.31 A105.4,105.4 0 0 1 400.96,62.92 L401.01,65.77 A102.55,102.55 0 0 0 393.71,66.15Z" fill="#2c7c8c"/>
<text stroke="#444" stroke-width="0.12" transform="translate(402.80,58.90) rotate(0.0)" font-size="3.1" fill="#444" text-anchor="start" dy="1.1">0</text>
<text stroke="#444" stroke-width="0.12" transform="translate(418.34,60.01) rotate(8.2)" font-size="3.1" fill="#444" text-anchor="middle" dy="1.1">2</text>
<text stroke="#444" stroke-width="0.12" transform="translate(433.57,63.32) rotate(16.3)" font-size="3.1" fill="#444" text-anchor="middle" dy="1.1">4</text>
<text stroke="#444" stroke-width="0.12" transform="translate(448.17,68.75) rotate(24.5)" font-size="3.1" fill="#444" text-anchor="middle" dy="1.1">6</text>
<text stroke="#444" stroke-width="0.12" transform="translate(461.85,76.20) rotate(32.7)" font-size="3.1" fill="#444" text-anchor="middle" dy="1.1">8</text>
<text stroke="#444" stroke-width="0.12" transform="translate(474.33,85.53) rotate(40.8)" font-size="3.1" fill="#444" text-anchor="middle" dy="1.1">10</text>
<text stroke="#444" stroke-width="0.12" transform="translate(485.37,96.53) rotate(49.0)" font-size="3.1" fill="#444" text-anchor="middle" dy="1.1">12</text>
<text stroke="#444" stroke-width="0.12" transform="translate(494.72,108.98) rotate(57.2)" font-size="3.1" fill="#444" text-anchor="middle" dy="1.1">14</text>
<text stroke="#444" stroke-width="0.12" transform="translate(502.22,122.64) rotate(65.3)" font-size="3.1" fill="#444" text-anchor="middle" dy="1.1">16</text>
<text stroke="#444" stroke-width="0.12" transform="translate(507.69,137.23) rotate(73.5)" font-size="3.1" fill="#444" text-anchor="middle" dy="1.1">18</text>
<text stroke="#444" stroke-width="0.12" transform="translate(511.04,152.44) rotate(81.7)" font-size="3.1" fill="#444" text-anchor="middle" dy="1.1">20</text>
<text stroke="#444" stroke-width="0.12" transform="translate(512.02,162.10) rotate(86.8)" font-size="3.1" fill="#444" text-anchor="start" dy="1.1">0</text>
<text stroke="#444" stroke-width="0.12" transform="translate(511.80,177.68) rotate(94.9)" font-size="3.1" fill="#444" text-anchor="middle" dy="1.1">2</text>
<text stroke="#444" stroke-width="0.12" transform="translate(509.36,193.06) rotate(103.1)" font-size="3.1" fill="#444" text-anchor="middle" dy="1.1">4</text>
<text stroke="#444" stroke-width="0.12" transform="translate(504.76,207.95) rotate(111.2)" font-size="3.1" fill="#444" text-anchor="middle" dy="1.1">6</text>
<text stroke="#444" stroke-width="0.12" transform="translate(498.10,222.03) rotate(119.4)" font-size="3.1" fill="#444" text-anchor="middle" dy="1.1">8</text>
<text stroke="#444" stroke-width="0.12" transform="translate(489.50,235.02) rotate(127.6)" font-size="3.1" fill="#444" text-anchor="middle" dy="1.1">10</text>
<text stroke="#444" stroke-width="0.12" transform="translate(479.14,246.66) rotate(135.8)" font-size="3.1" fill="#444" text-anchor="middle" dy="1.1">12</text>
<text stroke="#444" stroke-width="0.12" transform="translate(467.23,256.71) rotate(143.9)" font-size="3.1" fill="#444" text-anchor="middle" dy="1.1">14</text>
<text stroke="#444" stroke-width="0.12" transform="translate(454.02,264.97) rotate(152.1)" font-size="3.1" fill="#444" text-anchor="end" dy="1.1">16</text>
<text stroke="#444" stroke-width="0.12" transform="translate(452.32,265.85) rotate(153.1)" font-size="3.1" fill="#444" text-anchor="start" dy="1.1">0</text>
<text stroke="#444" stroke-width="0.12" transform="translate(437.97,271.89) rotate(161.2)" font-size="3.1" fill="#444" text-anchor="middle" dy="1.1">2</text>
<text stroke="#444" stroke-width="0.12" transform="translate(422.89,275.84) rotate(169.4)" font-size="3.1" fill="#444" text-anchor="middle" dy="1.1">4</text>
<text stroke="#444" stroke-width="0.12" transform="translate(413.29,277.20) rotate(174.5)" font-size="3.1" fill="#444" text-anchor="start" dy="1.1">0</text>
<text stroke="#444" stroke-width="0.12" transform="translate(397.71,277.58) rotate(182.7)" font-size="3.1" fill="#444" text-anchor="middle" dy="1.1">2</text>
<text stroke="#444" stroke-width="0.12" transform="translate(382.24,275.75) rotate(190.8)" font-size="3.1" fill="#444" text-anchor="middle" dy="1.1">4</text>
<text stroke="#444" stroke-width="0.12" transform="translate(372.80,273.51) rotate(195.9)" font-size="3.1" fill="#444" text-anchor="start" dy="1.1">0</text>
<text stroke="#444" stroke-width="0.12" transform="translate(358.16,268.18) rotate(204.1)" font-size="3.1" fill="#444" text-anchor="middle" dy="1.1">2</text>
<text stroke="#444" stroke-width="0.12" transform="translate(344.42,260.82) rotate(212.2)" font-size="3.1" fill="#444" text-anchor="end" dy="1.1">4</text>
<text stroke="#444" stroke-width="0.12" transform="translate(342.82,259.79) rotate(213.2)" font-size="3.1" fill="#444" text-anchor="start" dy="1.1">0</text>
<text stroke="#444" stroke-width="0.12" transform="translate(330.43,250.34) rotate(221.4)" font-size="3.1" fill="#444" text-anchor="middle" dy="1.1">2</text>
<text stroke="#444" stroke-width="0.12" transform="translate(319.51,239.23) rotate(229.6)" font-size="3.1" fill="#444" text-anchor="end" dy="1.1">4</text>
<text stroke="#444" stroke-width="0.12" transform="translate(318.28,237.76) rotate(230.6)" font-size="3.1" fill="#444" text-anchor="start" dy="1.1">0</text>
<text stroke="#444" stroke-width="0.12" transform="translate(309.27,225.05) rotate(238.7)" font-size="3.1" fill="#444" text-anchor="middle" dy="1.1">2</text>
<text stroke="#444" stroke-width="0.12" transform="translate(302.16,211.19) rotate(246.9)" font-size="3.1" fill="#444" text-anchor="end" dy="1.1">4</text>
<text stroke="#444" stroke-width="0.12" transform="translate(301.43,209.43) rotate(247.9)" font-size="3.1" fill="#444" text-anchor="start" dy="1.1">0</text>
<text stroke="#444" stroke-width="0.12" transform="translate(296.61,194.61) rotate(256.1)" font-size="3.1" fill="#444" text-anchor="middle" dy="1.1">2</text>
<text stroke="#444" stroke-width="0.12" transform="translate(293.95,179.26) rotate(264.2)" font-size="3.1" fill="#444" text-anchor="end" dy="1.1">4</text>
<text stroke="#444" stroke-width="0.12" transform="translate(293.78,177.36) rotate(265.2)" font-size="3.1" fill="#444" text-anchor="start" dy="1.1">0</text>
<text stroke="#444" stroke-width="0.12" transform="translate(293.59,161.78) rotate(273.4)" font-size="3.1" fill="#444" text-anchor="middle" dy="1.1">2</text>
<text stroke="#444" stroke-width="0.12" transform="translate(295.63,146.33) rotate(281.6)" font-size="3.1" fill="#444" text-anchor="end" dy="1.1">4</text>
<text stroke="#444" stroke-width="0.12" transform="translate(296.03,144.47) rotate(282.6)" font-size="3.1" fill="#444" text-anchor="start" dy="1.1">0</text>
<text stroke="#444" stroke-width="0.12" transform="translate(300.50,129.54) rotate(290.8)" font-size="3.1" fill="#444" text-anchor="middle" dy="1.1">2</text>
<text stroke="#444" stroke-width="0.12" transform="translate(304.33,120.63) rotate(295.8)" font-size="3.1" fill="#444" text-anchor="start" dy="1.1">0</text>
<text stroke="#444" stroke-width="0.12" transform="translate(312.10,107.12) rotate(304.0)" font-size="3.1" fill="#444" text-anchor="middle" dy="1.1">2</text>
<text stroke="#444" stroke-width="0.12" transform="translate(317.88,99.33) rotate(309.1)" font-size="3.1" fill="#444" text-anchor="start" dy="1.1">0</text>
<text stroke="#444" stroke-width="0.12" transform="translate(328.54,87.97) rotate(317.2)" font-size="3.1" fill="#444" text-anchor="end" dy="1.1">2</text>
<text stroke="#444" stroke-width="0.12" transform="translate(329.95,86.68) rotate(318.2)" font-size="3.1" fill="#444" text-anchor="start" dy="1.1">0</text>
<text stroke="#444" stroke-width="0.12" transform="translate(342.29,77.16) rotate(326.4)" font-size="3.1" fill="#444" text-anchor="end" dy="1.1">2</text>
<text stroke="#444" stroke-width="0.12" transform="translate(343.89,76.12) rotate(327.4)" font-size="3.1" fill="#444" text-anchor="start" dy="1.1">0</text>
<text stroke="#444" stroke-width="0.12" transform="translate(357.58,68.68) rotate(335.6)" font-size="3.1" fill="#444" text-anchor="end" dy="1.1">2</text>
<text stroke="#444" stroke-width="0.12" transform="translate(359.32,67.91) rotate(336.6)" font-size="3.1" fill="#444" text-anchor="start" dy="1.1">0</text>
<text stroke="#444" stroke-width="0.12" transform="translate(374.02,62.75) rotate(344.8)" font-size="3.1" fill="#444" text-anchor="end" dy="1.1">2</text>
<text stroke="#444" stroke-width="0.12" transform="translate(375.87,62.27) rotate(345.8)" font-size="3.1" fill="#444" text-anchor="start" dy="1.1">0</text>
<text stroke="#444" stroke-width="0.12" transform="translate(391.21,59.52) rotate(353.9)" font-size="3.1" fill="#444" text-anchor="end" dy="1.1">2</text>
<text stroke="#444" stroke-width="0.12" transform="translate(393.11,59.33) rotate(354.9)" font-size="3.1" fill="#444" text-anchor="start" dy="1.1">0</text>
<path d="M405.80,62.94L405.83,62.04M408.81,63.07L408.86,62.17M411.80,63.29L411.88,62.39M414.79,63.58L414.89,62.69M420.74,64.44L420.89,63.55M423.69,64.99L423.87,64.11M426.63,65.63L426.83,64.75M429.55,66.35L429.77,65.48M435.31,68.04L435.59,67.18M438.16,69.01L438.46,68.16M440.97,70.06L441.30,69.22M443.76,71.18L444.11,70.35M449.22,73.67L449.62,72.87M451.90,75.04L452.32,74.24M454.54,76.47L454.98,75.69M457.14,77.99L457.60,77.21M462.20,81.23L462.70,80.49M464.65,82.96L465.18,82.23M467.06,84.76L467.61,84.04M469.42,86.62L469.98,85.92M473.96,90.55L474.57,89.89M476.15,92.61L476.78,91.96M478.28,94.73L478.92,94.10M480.34,96.91L481.01,96.30M484.29,101.45L484.98,100.88M486.16,103.80L486.87,103.25M487.96,106.20L488.69,105.67M489.70,108.65L490.44,108.14M492.96,113.70L493.73,113.23M494.48,116.29L495.26,115.85M495.92,118.93L496.72,118.50M497.29,121.60L498.10,121.20M499.80,127.06L500.63,126.71M500.93,129.84L501.77,129.51M501.99,132.65L502.84,132.35M502.97,135.50L503.82,135.22M504.67,141.26L505.54,141.03M505.40,144.17L506.28,143.97M506.05,147.11L506.93,146.93M506.61,150.06L507.50,149.90M507.48,156.00L508.37,155.90M507.79,158.99L508.68,158.91M402.80,62.90L402.80,61.20M417.77,63.97L418.01,62.29M432.44,67.15L432.92,65.52M446.51,72.39L447.21,70.84M459.69,79.57L460.61,78.14M471.72,88.55L472.83,87.27M482.35,99.15L483.63,98.04M491.36,111.15L492.79,110.23M498.58,124.31L500.13,123.60M503.86,138.36L505.49,137.88M507.09,153.02L508.77,152.78M508.16,165.33L509.06,165.30M508.20,168.33L509.10,168.33M508.16,171.33L509.06,171.36M508.03,174.34L508.93,174.39M507.51,180.32L508.41,180.43M507.13,183.30L508.02,183.43M506.66,186.27L507.54,186.42M506.10,189.22L506.98,189.40M504.74,195.08L505.61,195.30M503.94,197.97L504.80,198.22M503.05,200.84L503.91,201.12M502.08,203.69L502.93,203.99M499.90,209.29L500.73,209.64M498.70,212.04L499.52,212.41M497.41,214.75L498.22,215.15M496.05,217.43L496.85,217.85M493.10,222.66L493.87,223.13M491.51,225.22L492.27,225.70M489.85,227.72L490.60,228.23M488.12,230.18L488.85,230.71M484.46,234.94L485.16,235.51M482.53,237.24L483.21,237.83M480.53,239.48L481.19,240.09M478.47,241.67L479.12,242.30M474.17,245.86L474.77,246.53M471.93,247.87L472.52,248.55M469.63,249.80L470.20,250.50M467.28,251.68L467.83,252.39M462.42,255.21L462.93,255.96M459.92,256.88L460.41,257.64M457.37,258.47L457.84,259.24M454.78,259.99L455.23,260.77M508.03,162.32L509.73,162.23M507.81,177.33L509.51,177.48M505.46,192.16L507.12,192.54M501.03,206.50L502.62,207.12M494.61,220.07L496.09,220.90M486.33,232.59L487.67,233.62M476.35,243.80L477.53,245.02M464.88,253.48L465.88,254.85M452.15,261.43L452.94,262.94M447.82,263.60L448.20,264.42M445.08,264.85L445.44,265.67M442.31,266.01L442.65,266.85M439.51,267.10L439.82,267.94M433.82,269.03L434.09,269.89M430.94,269.87L431.18,270.74M428.03,270.64L428.25,271.51M425.10,271.31L425.29,272.19M419.20,272.42L419.34,273.31M416.22,272.84L416.34,273.73M450.51,262.28L451.28,263.80M436.68,268.11L437.23,269.72M422.16,271.91L422.47,273.58M409.91,273.46L409.97,274.36M406.91,273.62L406.94,274.52M403.90,273.69L403.91,274.59M400.90,273.68L400.88,274.58M394.90,273.40L394.83,274.30M391.90,273.14L391.81,274.03M388.92,272.78L388.80,273.67M385.95,272.34L385.80,273.23M380.05,271.21L379.85,272.09M377.12,270.52L376.90,271.40M412.90,273.21L413.07,274.91M397.90,273.59L397.82,275.28M382.99,271.82L382.67,273.49M371.02,268.79L370.75,269.65M368.17,267.85L367.87,268.70M365.34,266.82L365.02,267.66M362.55,265.71L362.21,266.54M357.06,263.26L356.67,264.07M354.38,261.92L353.96,262.72M351.73,260.50L351.29,261.29M349.12,259.01L348.66,259.78M373.90,269.66L373.43,271.29M359.79,264.53L359.10,266.08M346.56,257.44L345.65,258.88M342.52,254.76L342.01,255.50M340.08,253.01L339.55,253.73M337.69,251.19L337.14,251.89M335.36,249.30L334.78,249.99M330.85,245.32L330.24,245.98M328.68,243.24L328.05,243.88M326.58,241.10L325.93,241.72M324.53,238.89L323.87,239.50M345.01,256.44L344.08,257.87M333.07,247.34L331.95,248.62M322.55,236.64L321.26,237.74M319.50,232.88L318.79,233.43M317.69,230.48L316.97,231.01M315.95,228.02L315.21,228.53M314.29,225.52L313.53,226.01M311.17,220.39L310.39,220.83M309.72,217.76L308.93,218.18M308.35,215.08L307.54,215.48M307.06,212.37L306.24,212.75M321.37,235.22L320.06,236.30M312.69,222.98L311.24,223.86M305.84,209.62L304.27,210.29M304.04,205.13L303.20,205.44M303.03,202.30L302.18,202.59M302.10,199.44L301.24,199.70M301.26,196.56L300.39,196.80M299.81,190.72L298.93,190.91M299.22,187.78L298.33,187.95M298.70,184.82L297.81,184.96M298.27,181.84L297.38,181.96M305.13,207.93L303.56,208.56M300.49,193.65L298.84,194.06M297.93,178.86L296.24,179.03M297.56,174.03L296.66,174.08M297.44,171.03L296.54,171.05M297.40,168.02L296.50,168.02M297.45,165.02L296.55,164.99M297.81,159.02L296.91,158.94M298.12,156.03L297.22,155.93M298.51,153.05L297.62,152.92M298.99,150.09L298.10,149.93M297.76,177.03L296.07,177.17M297.59,162.02L295.89,161.92M299.55,147.14L297.88,146.80M300.63,142.41L299.76,142.19M301.41,139.51L300.54,139.27M302.27,136.63L301.41,136.36M303.21,133.78L302.36,133.49M305.34,128.16L304.51,127.82M306.52,125.40L305.70,125.04M307.79,122.68L306.98,122.29M299.93,145.34L298.27,144.97M304.24,130.96L302.65,130.36M309.28,119.69L308.48,119.27M310.70,117.04L309.92,116.60M312.20,114.44L311.43,113.98M313.77,111.88L313.01,111.39M317.13,106.89L316.40,106.37M318.92,104.48L318.20,103.93M320.77,102.11L320.07,101.55M307.93,122.37L306.40,121.63M315.42,109.36L314.01,108.41M322.91,99.55L322.23,98.96M324.90,97.30L324.24,96.69M326.96,95.11L326.31,94.48M329.08,92.97L328.45,92.33M320.99,101.85L319.67,100.78M331.25,90.90L330.10,89.65M334.89,87.70L334.31,87.01M337.21,85.79L336.65,85.09M339.59,83.96L339.05,83.24M342.02,82.19L341.50,81.46M332.62,89.67L331.48,88.40M344.50,80.49L343.56,79.08M348.59,77.91L348.13,77.14M351.19,76.40L350.75,75.61M353.83,74.97L353.41,74.17M356.51,73.61L356.12,72.80M346.04,79.49L345.12,78.06M359.23,72.33L358.53,70.78M363.69,70.43L363.35,69.59M366.49,69.35L366.18,68.51M369.33,68.36L369.04,67.50M372.19,67.44L371.93,66.58M360.91,71.58L360.24,70.02M375.08,66.61L374.63,64.97M379.78,65.45L379.58,64.57M382.72,64.83L382.55,63.95M385.68,64.30L385.53,63.41M388.65,63.85L388.53,62.96M376.86,66.14L376.44,64.50M391.63,63.49L391.45,61.80M396.46,63.09L396.40,62.19M399.46,62.95L399.43,62.05M393.46,63.31L393.31,61.62" stroke="#333" stroke-width="0.4" fill="none"/>
<text stroke="#1a1a1a" stroke-width="0.12" transform="translate(481.05,84.02) rotate(42.9)" font-size="6.7" font-weight="bold" font-style="italic" fill="#1a1a1a" text-anchor="middle" dy="2.41">TET2</text>
<text stroke="#1a1a1a" stroke-width="0.12" transform="translate(503.84,225.27) rotate(-60.6)" font-size="6.8" font-weight="bold" font-style="italic" fill="#1a1a1a" text-anchor="middle" dy="2.45">ASXL1</text>
<text stroke="#1a1a1a" stroke-width="0.12" transform="translate(435.80,278.25) rotate(-16.7)" font-size="7.0" font-weight="bold" font-style="italic" fill="#1a1a1a" text-anchor="middle" dy="2.52">EZH2</text>
<text stroke="#1a1a1a" stroke-width="0.12" transform="translate(393.38,282.71) rotate(4.7)" font-size="7.0" font-weight="bold" font-style="italic" fill="#1a1a1a" text-anchor="middle" dy="2.52">ZRSR2</text>
<text stroke="#1a1a1a" stroke-width="0.12" transform="translate(355.95,273.11) rotate(24.1)" font-size="7.0" font-weight="bold" font-style="italic" fill="#1a1a1a" text-anchor="middle" dy="2.52">NRAS</text>
<text stroke="#1a1a1a" stroke-width="0.12" transform="translate(326.86,254.39) rotate(41.4)" font-size="6.7" font-weight="bold" font-style="italic" fill="#1a1a1a" text-anchor="middle" dy="2.41">SF3B1</text>
<text stroke="#1a1a1a" stroke-width="0.12" transform="translate(304.66,227.86) rotate(58.8)" font-size="6.8" font-weight="bold" font-style="italic" fill="#1a1a1a" text-anchor="middle" dy="2.45">BCOR</text>
<text stroke="#1a1a1a" stroke-width="0.12" transform="translate(291.37,195.91) rotate(76.1)" font-size="6.8" font-weight="bold" font-style="italic" fill="#1a1a1a" text-anchor="middle" dy="2.45">ETV6</text>
<text stroke="#1a1a1a" stroke-width="0.12" transform="translate(288.20,161.46) rotate(-86.6)" font-size="6.8" font-weight="bold" font-style="italic" fill="#1a1a1a" text-anchor="middle" dy="2.45">KRAS</text>
<text stroke="#1a1a1a" stroke-width="0.12" transform="translate(294.07,131.48) rotate(-71.3)" font-size="5.2" font-weight="bold" font-style="italic" fill="#1a1a1a" text-anchor="middle" dy="1.87">NOTCH1</text>
<text stroke="#1a1a1a" stroke-width="0.12" transform="translate(305.40,107.54) rotate(-58.0)" font-size="5.1" font-weight="bold" font-style="italic" fill="#1a1a1a" text-anchor="middle" dy="1.84">SH2B3</text>
<text stroke="#1a1a1a" stroke-width="0.12" transform="translate(319.07,89.76) rotate(-46.8)" font-size="5.2" font-weight="bold" font-style="italic" fill="#1a1a1a" text-anchor="middle" dy="1.87">SRSF2</text>
<text stroke="#1a1a1a" stroke-width="0.12" transform="translate(332.65,77.43) rotate(-37.7)" font-size="4.5" font-weight="bold" font-style="italic" fill="#1a1a1a" text-anchor="middle" dy="1.62">ATRX</text>
<text stroke="#1a1a1a" stroke-width="0.12" transform="translate(348.02,67.41) rotate(-28.5)" font-size="4.5" font-weight="bold" font-style="italic" fill="#1a1a1a" text-anchor="middle" dy="1.62">CTCF</text>
<text stroke="#1a1a1a" stroke-width="0.12" transform="translate(364.79,59.97) rotate(-19.3)" font-size="4.5" font-weight="bold" font-style="italic" fill="#1a1a1a" text-anchor="middle" dy="1.62">GATA2</text>
<text stroke="#1a1a1a" stroke-width="0.12" transform="translate(381.47,56.11) rotate(-10.8)" font-size="4.5" font-weight="bold" font-style="italic" fill="#1a1a1a" text-anchor="middle" dy="1.62">PHF6</text>
<text stroke="#1a1a1a" stroke-width="0.12" transform="translate(399.15,54.76) rotate(-1.8)" font-size="4.3" font-weight="bold" font-style="italic" fill="#1a1a1a" text-anchor="middle" dy="1.55">CDKN2A</text>
</svg></div></body></html>
